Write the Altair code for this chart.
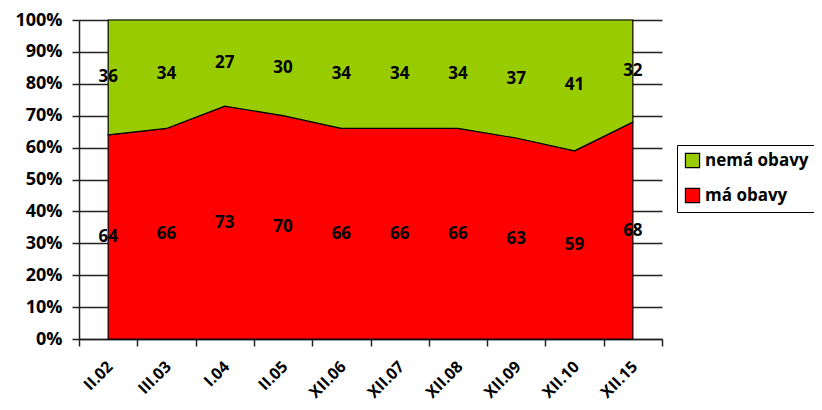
import altair as alt
import pandas as pd

cats = ["II.02", "III.03", "I.04", "II.05", "XII.06", "XII.07", "XII.08", "XII.09", "XII.10", "XII.15"]
ma_obavy = [64, 66, 73, 70, 66, 66, 66, 63, 59, 68]
nema_obavy = [36, 34, 27, 30, 34, 34, 34, 37, 41, 32]
series = ["nemá obavy", "má obavy"]
colors = ["#99CC00", "#FF0000"]
y_ticks = [0, 0.1, 0.2, 0.3, 0.4, 0.5, 0.6, 0.7, 0.8, 0.9, 1.0]

rows = []
for i, c in enumerate(cats):
    rows.append({"cat": c, "series": "má obavy", "v": ma_obavy[i] / 100, "ord": 0,
                 "mid": ma_obavy[i] / 200, "label": str(ma_obavy[i])})
    rows.append({"cat": c, "series": "nemá obavy", "v": nema_obavy[i] / 100, "ord": 1,
                 "mid": (ma_obavy[i] + nema_obavy[i] / 2) / 100, "label": str(nema_obavy[i])})
df = pd.DataFrame(rows)

FONT = "Open Sans"

x_scale = alt.Scale(type="band", paddingInner=0, paddingOuter=0)
x_axis = alt.Axis(title=None, tickBand="extent", labelAngle=-45, labelAlign="right",
                  labelBaseline="top", labelPadding=12, labelOffset=-4,
                  labelFont=FONT, labelFontSize=16, labelFontWeight="bold",
                  labelColor="#000", tickSize=7, tickColor="#222", tickWidth=1.5,
                  domainColor="#222", domainWidth=1.5, grid=False)
y_scale = alt.Scale(domain=[0, 1], nice=False)
y_axis = alt.Axis(title=None, format=".0%", values=y_ticks, labelOverlap=False,
                  labelFont=FONT, labelFontSize=18, labelFontWeight="bold",
                  labelColor="#000", labelPadding=10, tickSize=7, tickColor="#222",
                  tickWidth=1.5, domainColor="#222", domainWidth=1.5,
                  grid=True, gridColor="#222", gridWidth=1.5)

area = alt.Chart(df).mark_area(stroke="#000", strokeWidth=1.2, opacity=1).encode(
    x=alt.X("cat:N", sort=cats, bandPosition=0.5, scale=x_scale, axis=x_axis),
    y=alt.Y("v:Q", stack="zero", scale=y_scale, axis=y_axis),
    color=alt.Color("series:N", scale=alt.Scale(domain=series, range=colors),
                    legend=alt.Legend(title=None, orient="none", legendX=598, legendY=125,
                                      symbolType="square", symbolSize=200,
                                      symbolStrokeColor="#000", symbolStrokeWidth=1.2,
                                      labelFont=FONT, labelFontSize=17, labelFontWeight="bold",
                                      labelColor="#000", rowPadding=16, padding=7,
                                      strokeColor="#000", symbolOffset=0)),
    order=alt.Order("ord:Q"),
)

labels = alt.Chart(df).mark_text(font=FONT, fontSize=17, fontWeight="bold", color="#000").encode(
    x=alt.X("cat:N", sort=cats, bandPosition=0.5, scale=x_scale, axis=x_axis),
    y=alt.Y("mid:Q", scale=y_scale, axis=y_axis),
    text="label:N",
)

chart = alt.layer(area, labels).properties(
    width=583, height=319,
    autosize=alt.AutoSizeParams(type="none"),
    padding={"left": 71, "top": 12, "right": 152, "bottom": 63},
).configure_view(stroke=None)

chart.save("out.html", embed_options={"renderer": "svg", "actions": False})
